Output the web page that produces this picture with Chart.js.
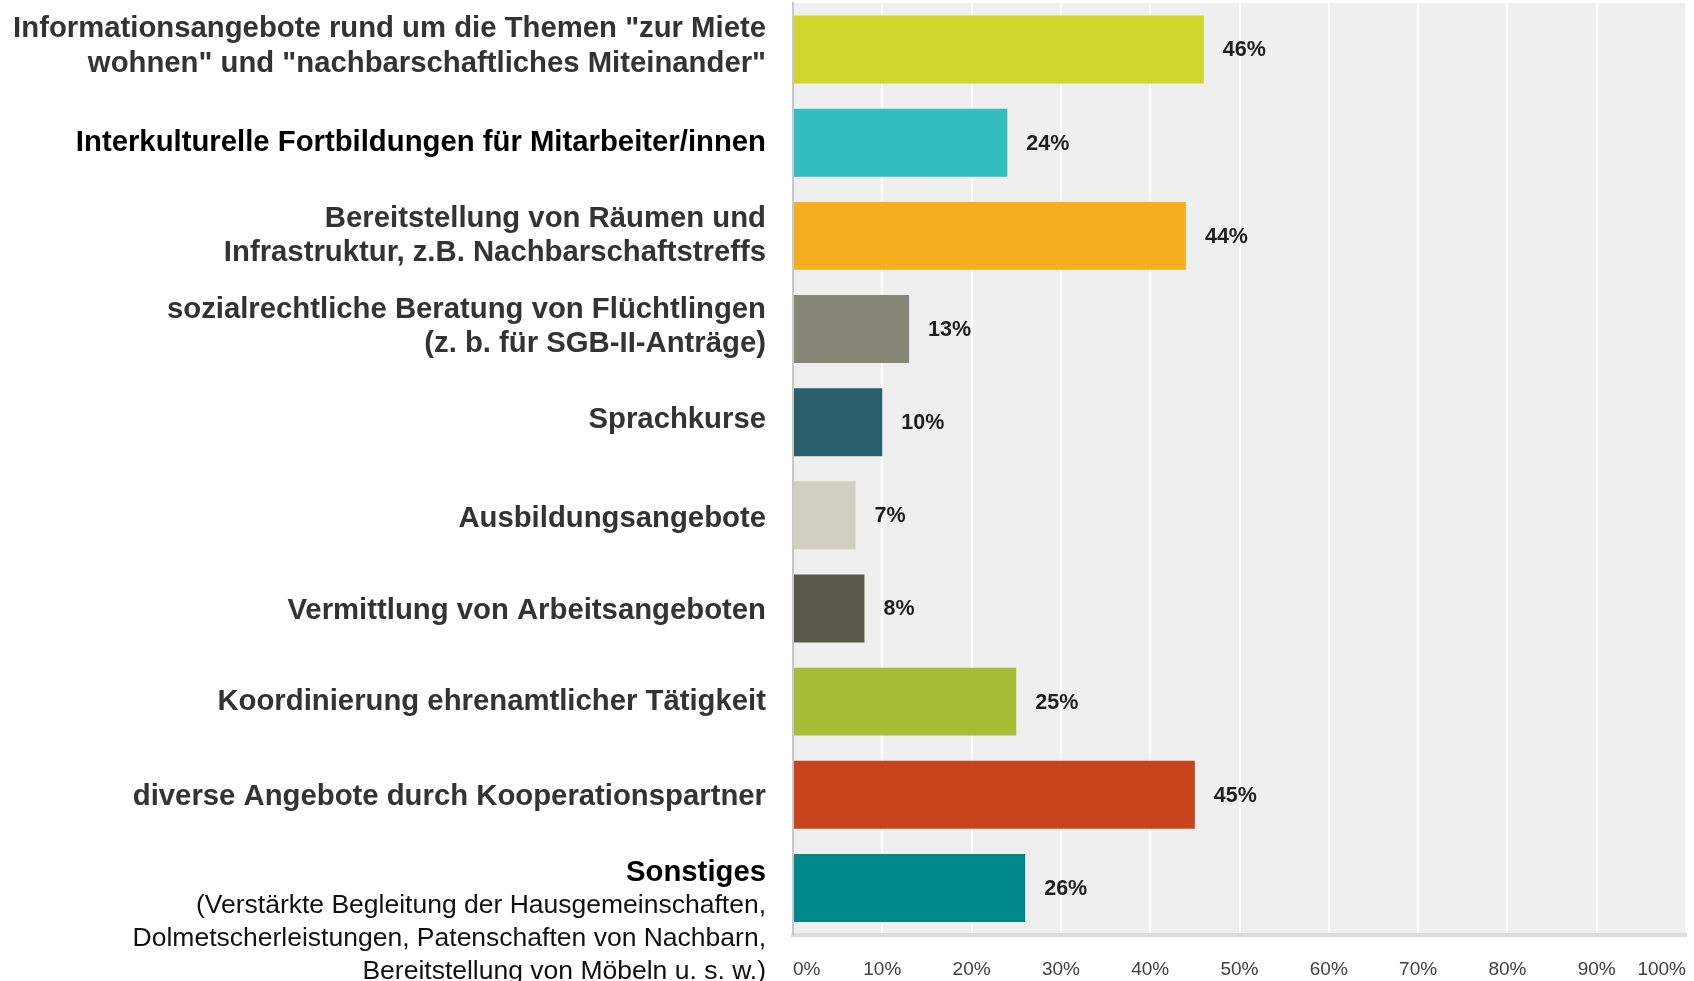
<!DOCTYPE html>
<html>
<head>
<meta charset="utf-8">
<script src="https://cdn.jsdelivr.net/npm/chart.js@4"></script>
<style>
  body { margin: 0; background: #fff; }
  #wrap { width: 1694px; height: 981px; position: relative; }
</style>
</head>
<body>
<div id="wrap"><canvas id="chart"></canvas></div>
<script>
// data
const categories = [
  ['Informationsangebote rund um die Themen "zur Miete', 'wohnen" und "nachbarschaftliches Miteinander"'],
  ['Interkulturelle Fortbildungen für Mitarbeiter/innen'],
  ['Bereitstellung von Räumen und', 'Infrastruktur, z.B. Nachbarschaftstreffs'],
  ['sozialrechtliche Beratung von Flüchtlingen', '(z. b. für SGB-II-Anträge)'],
  ['Sprachkurse'],
  ['Ausbildungsangebote'],
  ['Vermittlung von Arbeitsangeboten'],
  ['Koordinierung ehrenamtlicher Tätigkeit'],
  ['diverse Angebote durch Kooperationspartner'],
  ['Sonstiges', '(Verstärkte Begleitung der Hausgemeinschaften,', 'Dolmetscherleistungen, Patenschaften von Nachbarn,', 'Bereitstellung von Möbeln u. s. w.)']
];
const shares = [46, 24, 44, 13, 10, 7, 8, 25, 45, 26];
const xMin = 0;
const xMax = 100;
const xStep = 10;

const barColors = ['#cfd52a', '#33bdbf', '#f6ae1f', '#878777', '#2c5f6c',
                   '#d0cfc0', '#5a584a', '#a8bd37', '#c8441c', '#00898a'];
const labelColors = ['#333', '#000', '#333', '#333', '#333', '#333', '#333', '#333', '#333', '#000'];
// small vertical nudges so labels sit like in the original layout
const labelNudge = [-3, 0, 0, -2, -2, 4, 2, 0, 2, 0];
const FONT = '"Liberation Sans", Arial, sans-serif';

Chart.defaults.font.family = FONT;

// grey plot background
const plotBg = {
  id: 'plotBg',
  beforeDraw(chart) {
    const { ctx, chartArea: a } = chart;
    ctx.save();
    ctx.fillStyle = '#efefef';
    ctx.fillRect(a.left, a.top, a.right - a.left, a.bottom - a.top);
    ctx.restore();
  }
};

// category labels left of the bars
const catLabels = {
  id: 'catLabels',
  afterDraw(chart) {
    const { ctx, chartArea: a } = chart;
    const y = chart.scales.y;
    const xr = a.left - 27;
    ctx.save();
    ctx.textAlign = 'right';
    ctx.textBaseline = 'middle';
    categories.forEach((lines, i) => {
      const cy = y.getPixelForValue(i) + labelNudge[i];
      ctx.fillStyle = labelColors[i];
      if (lines.length > 2) {
        // "Sonstiges" + explanation in regular weight
        let ty = cy - 15.5;
        ctx.font = 'bold 29.3px ' + FONT;
        ctx.fillText(lines[0], xr, ty);
        ty += 33.5;
        ctx.font = '26.5px ' + FONT;
        ctx.fillStyle = '#111';
        for (let j = 1; j < lines.length; j++) {
          ctx.fillText(lines[j], xr, ty);
          ty += 32.8;
        }
      } else {
        ctx.font = 'bold 29.3px ' + FONT;
        const lh = 34.5;
        lines.forEach((t, j) => {
          ctx.fillText(t, xr, cy + (j - (lines.length - 1) / 2) * lh);
        });
      }
    });
    ctx.restore();
  }
};

// percent value right of each bar
const valueLabels = {
  id: 'valueLabels',
  afterDatasetsDraw(chart) {
    const { ctx } = chart;
    const meta = chart.getDatasetMeta(0);
    ctx.save();
    ctx.font = 'bold 21.5px ' + FONT;
    ctx.fillStyle = '#1e1e1e';
    ctx.textAlign = 'left';
    ctx.textBaseline = 'middle';
    meta.data.forEach((bar, i) => {
      ctx.fillText(shares[i] + '%', bar.x + 19, bar.y + 1);
    });
    ctx.restore();
  }
};

new Chart(document.getElementById('chart'), {
  type: 'bar',
  data: {
    labels: categories.map(l => l.join(' ')),
    datasets: [{
      data: shares,
      backgroundColor: barColors,
      borderWidth: 0,
      categoryPercentage: 1,
      barPercentage: 0.73
    }]
  },
  options: {
    indexAxis: 'y',
    responsive: true,
    maintainAspectRatio: false,
    animation: false,
    layout: { padding: { top: 3, right: 8, left: 0, bottom: 0 } },
    plugins: {
      legend: { display: false },
      tooltip: { enabled: false }
    },
    scales: {
      x: {
        min: xMin,
        max: xMax,
        grid: { color: '#ffffff', lineWidth: 2, drawTicks: false },
        border: { display: true, color: '#dcdcdc', width: 4 },
        ticks: {
          stepSize: xStep,
          align: 'inner',
          padding: 24,
          color: '#404040',
          font: { size: 19 },
          callback: v => v + '%'
        },
        afterFit(scale) {
          scale.height = 46.5;
          // labels are aligned inward, no extra side room needed
          scale.paddingLeft = 0;
          scale.paddingRight = 0;
        }
      },
      y: {
        grid: { display: false },
        border: { display: true, color: '#c8c8c8', width: 2 },
        ticks: { display: false },
        afterFit(scale) { scale.width = 793; }
      }
    }
  },
  plugins: [plotBg, catLabels, valueLabels]
});
</script>
</body>
</html>
